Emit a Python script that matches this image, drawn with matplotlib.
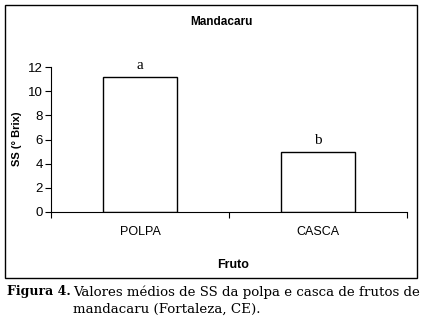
import matplotlib.pyplot as plt
from matplotlib.patches import Rectangle

categories = ['POLPA', 'CASCA']
ss_brix = [11.15, 4.95]
letters = ['a', 'b']

plt.rcParams['font.family'] = ['Liberation Sans', 'DejaVu Sans']

fig = plt.figure(figsize=(4.25, 3.2), dpi=100)

# frame around the chart area
fig.patches.append(Rectangle((5 / 425, 1 - 278 / 320), 412 / 425, 273 / 320,
                             transform=fig.transFigure, fill=False,
                             edgecolor='black', linewidth=1.0))

ax = fig.add_axes([51 / 425, 1 - 212 / 320, 356 / 425, 145 / 320])
x = range(len(categories))
ax.bar(x, ss_brix, width=0.42, color='white', edgecolor='black', linewidth=1.0)

for i, (v, lab) in enumerate(zip(ss_brix, letters)):
    ax.text(i, v + 0.4, lab, ha='center', va='bottom', fontsize=11,
            family=['Liberation Serif', 'DejaVu Serif'])

ax.set_xlim(-0.5, 1.5)
ax.set_ylim(0, 12)
ax.set_yticks(range(0, 13, 2))
ax.set_xticks([-0.5, 0.5, 1.5])
ax.set_xticklabels([])
ax.set_xticks(list(x), minor=True)
ax.set_xticklabels(categories, minor=True)
ax.tick_params(axis='x', which='minor', length=0, pad=10, labelsize=9)
ax.tick_params(axis='x', which='major', length=4, direction='out')
ax.tick_params(axis='y', length=4, labelsize=9.5, pad=2)
for s in ['top', 'right']:
    ax.spines[s].set_visible(False)

fig.text(221 / 425, 1 - 22 / 320, 'Mandacaru',
         ha='center', va='center', fontsize=8.5, fontweight='bold')
fig.text(17 / 425, 1 - 139 / 320, 'SS (° Brix)', rotation=90,
         ha='center', va='center', fontsize=8, fontweight='bold')
fig.text(233 / 425, 1 - 265 / 320, 'Fruto', ha='center', va='center',
         fontsize=9, fontweight='bold')

serif = ['DejaVu Serif']
fig.text(7 / 425, 1 - 292 / 320, 'Figura 4.', ha='left', va='center',
         fontsize=9, fontweight='bold', family=serif)
fig.text(73 / 425, 1 - 292 / 320,
         'Valores médios de SS da polpa e casca de frutos de',
         ha='left', va='center', fontsize=9.6, family=serif)
fig.text(73 / 425, 1 - 309 / 320, 'mandacaru (Fortaleza, CE).',
         ha='left', va='center', fontsize=9.6, family=serif)

fig.savefig('out.png', dpi=100)
